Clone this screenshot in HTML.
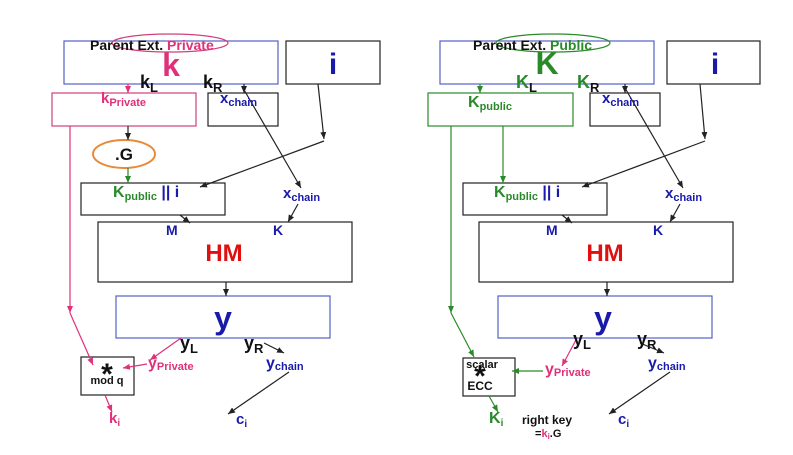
<!DOCTYPE html>
<html><head><meta charset="utf-8"><style>
html,body{margin:0;padding:0;background:#fff}
svg{display:block}
text{font-family:"Liberation Sans",sans-serif;font-weight:bold}
</style></head><body>
<svg width="793" height="455" viewBox="0 0 793 455" xmlns="http://www.w3.org/2000/svg">
<defs>
<marker id="ab" markerWidth="8" markerHeight="8" refX="7" refY="4" orient="auto" markerUnits="userSpaceOnUse"><path d="M0,1 L7,4 L0,7 z" fill="#222"/></marker>
<marker id="ap" markerWidth="8" markerHeight="8" refX="7" refY="4" orient="auto" markerUnits="userSpaceOnUse"><path d="M0,1 L7,4 L0,7 z" fill="#e0307a"/></marker>
<marker id="ag" markerWidth="8" markerHeight="8" refX="7" refY="4" orient="auto" markerUnits="userSpaceOnUse"><path d="M0,1 L7,4 L0,7 z" fill="#2a8a2a"/></marker>
</defs>
<g fill="none" stroke-width="1.2">
<!-- LEFT -->
<rect x="64" y="41" width="214" height="43" stroke="#5560c8"/>
<rect x="286" y="41" width="94" height="43" stroke="#222"/>
<rect x="52" y="93" width="144" height="33" stroke="#d0407a"/>
<rect x="208" y="93" width="70" height="33" stroke="#222"/>
<ellipse cx="124" cy="154" rx="31" ry="14" stroke="#e88a3a" stroke-width="2"/>
<rect x="81" y="183" width="144" height="32" stroke="#222"/>
<rect x="98" y="222" width="254" height="60" stroke="#222"/>
<rect x="116" y="296" width="214" height="42" stroke="#5560c8"/>
<rect x="81" y="357" width="53" height="38" stroke="#222"/>
<ellipse cx="170" cy="43" rx="58" ry="9" stroke="#d0407a"/>
<line x1="128" y1="84" x2="128" y2="93" stroke="#e0307a" marker-end="url(#ap)"/>
<line x1="128" y1="126" x2="128" y2="140" stroke="#222" marker-end="url(#ab)"/>
<line x1="128" y1="168" x2="128" y2="183" stroke="#2a8a2a" marker-end="url(#ag)"/>
<line x1="244" y1="84" x2="244" y2="93" stroke="#222" marker-end="url(#ab)"/>
<polyline points="318,84 324,139" stroke="#222" marker-end="url(#ab)"/>
<line x1="324" y1="141" x2="200" y2="187" stroke="#222" marker-end="url(#ab)"/>
<line x1="243" y1="88" x2="301" y2="188" stroke="#222" marker-end="url(#ab)"/>
<line x1="298" y1="204" x2="288" y2="222" stroke="#222" marker-end="url(#ab)"/>
<line x1="180" y1="215" x2="190" y2="223" stroke="#222" marker-end="url(#ab)"/>
<line x1="226" y1="282" x2="226" y2="296" stroke="#222" marker-end="url(#ab)"/>
<line x1="70" y1="126" x2="70" y2="313" stroke="#e0307a" marker-end="url(#ap)"/>
<line x1="70" y1="313" x2="93" y2="365" stroke="#e0307a" marker-end="url(#ap)"/>
<line x1="181" y1="338" x2="150" y2="360" stroke="#e0307a" marker-end="url(#ap)"/>
<line x1="147" y1="364" x2="123" y2="368" stroke="#e0307a" marker-end="url(#ap)"/>
<line x1="264" y1="343" x2="284" y2="353" stroke="#222" marker-end="url(#ab)"/>
<line x1="289" y1="372" x2="228" y2="414" stroke="#222" marker-end="url(#ab)"/>
<line x1="105" y1="395" x2="112" y2="412" stroke="#e0307a" marker-end="url(#ap)"/>
<!-- RIGHT -->
<rect x="440" y="41" width="214" height="43" stroke="#5560c8"/>
<rect x="667" y="41" width="93" height="43" stroke="#222"/>
<rect x="428" y="93" width="145" height="33" stroke="#2a8a2a"/>
<rect x="590" y="93" width="70" height="33" stroke="#222"/>
<rect x="463" y="183" width="144" height="32" stroke="#222"/>
<rect x="479" y="222" width="254" height="60" stroke="#222"/>
<rect x="498" y="296" width="214" height="42" stroke="#5560c8"/>
<rect x="463" y="358" width="52" height="38" stroke="#222"/>
<ellipse cx="553" cy="43" rx="57" ry="9" stroke="#2a8a2a"/>
<line x1="480" y1="84" x2="480" y2="93" stroke="#2a8a2a" marker-end="url(#ag)"/>
<line x1="625" y1="84" x2="625" y2="93" stroke="#222" marker-end="url(#ab)"/>
<line x1="503" y1="126" x2="503" y2="183" stroke="#2a8a2a" marker-end="url(#ag)"/>
<line x1="700" y1="84" x2="705" y2="139" stroke="#222" marker-end="url(#ab)"/>
<line x1="705" y1="141" x2="582" y2="187" stroke="#222" marker-end="url(#ab)"/>
<line x1="625" y1="88" x2="683" y2="188" stroke="#222" marker-end="url(#ab)"/>
<line x1="680" y1="204" x2="670" y2="222" stroke="#222" marker-end="url(#ab)"/>
<line x1="562" y1="215" x2="572" y2="223" stroke="#222" marker-end="url(#ab)"/>
<line x1="607" y1="282" x2="607" y2="296" stroke="#222" marker-end="url(#ab)"/>
<line x1="451" y1="126" x2="451" y2="313" stroke="#2a8a2a" marker-end="url(#ag)"/>
<line x1="451" y1="313" x2="474" y2="357" stroke="#2a8a2a" marker-end="url(#ag)"/>
<line x1="577" y1="338" x2="562" y2="366" stroke="#e0307a" marker-end="url(#ap)"/>
<line x1="543" y1="371" x2="512" y2="371" stroke="#2a8a2a" marker-end="url(#ag)"/>
<line x1="640" y1="343" x2="664" y2="353" stroke="#222" marker-end="url(#ab)"/>
<line x1="670" y1="372" x2="609" y2="414" stroke="#222" marker-end="url(#ab)"/>
<line x1="489" y1="396" x2="498" y2="412" stroke="#2a8a2a" marker-end="url(#ag)"/>
</g>
<!-- LEFT TEXT -->
<text x="90" y="50" font-size="14" fill="#111">Parent Ext. <tspan fill="#e0307a">Private</tspan></text>
<text x="171" y="76" font-size="32" fill="#e0307a" text-anchor="middle">k</text>
<text x="140" y="88" font-size="18" fill="#111">k<tspan font-size="13" dy="4">L</tspan></text>
<text x="203" y="88" font-size="18" fill="#111">k<tspan font-size="13" dy="4">R</tspan></text>
<text x="333" y="74" font-size="30" fill="#1a1aaa" text-anchor="middle">i</text>
<text x="101" y="103" font-size="15" fill="#e0307a">k<tspan font-size="11" dy="3">Private</tspan></text>
<text x="220" y="103" font-size="15" fill="#1a1aaa">x<tspan font-size="11" dy="3">chain</tspan></text>
<text x="124" y="160" font-size="17" fill="#111" text-anchor="middle">.G</text>
<text x="113" y="197" font-size="16" fill="#2a8a2a">K<tspan font-size="11" dy="3">public</tspan><tspan dy="-3" fill="#1a1aaa"> || i</tspan></text>
<text x="283" y="198" font-size="15" fill="#1a1aaa">x<tspan font-size="11" dy="3">chain</tspan></text>
<text x="166" y="235" font-size="14" fill="#1a1aaa">M</text>
<text x="273" y="235" font-size="14" fill="#1a1aaa">K</text>
<text x="224" y="261" font-size="24" fill="#e01010" text-anchor="middle">HM</text>
<text x="223" y="329" font-size="32" fill="#1a1aaa" text-anchor="middle">y</text>
<text x="180" y="349" font-size="18" fill="#111">y<tspan font-size="13" dy="4">L</tspan></text>
<text x="244" y="349" font-size="18" fill="#111">y<tspan font-size="13" dy="4">R</tspan></text>
<text x="148" y="368" font-size="16" fill="#e0307a">y<tspan font-size="11" dy="2">Private</tspan></text>
<text x="266" y="368" font-size="16" fill="#1a1aaa">y<tspan font-size="11" dy="2">chain</tspan></text>
<text x="107" y="384" font-size="30" fill="#111" text-anchor="middle">*</text>
<text x="107" y="384" font-size="11" fill="#111" text-anchor="middle">mod q</text>
<text x="109" y="423" font-size="15" fill="#e0307a">k<tspan font-size="10" dy="3">i</tspan></text>
<text x="236" y="424" font-size="15" fill="#1a1aaa">c<tspan font-size="10" dy="3">i</tspan></text>
<!-- RIGHT TEXT -->
<text x="473" y="50" font-size="14" fill="#111">Parent Ext. <tspan fill="#2a8a2a">Public</tspan></text>
<text x="547" y="74" font-size="32" fill="#2a8a2a" text-anchor="middle">K</text>
<text x="516" y="88" font-size="18" fill="#2a8a2a">K<tspan font-size="13" dy="4" fill="#111">L</tspan></text>
<text x="577" y="88" font-size="18" fill="#2a8a2a">K<tspan font-size="13" dy="4" fill="#111">R</tspan></text>
<text x="715" y="74" font-size="30" fill="#1a1aaa" text-anchor="middle">i</text>
<text x="468" y="107" font-size="16" fill="#2a8a2a">K<tspan font-size="11" dy="3">public</tspan></text>
<text x="602" y="103" font-size="15" fill="#1a1aaa">x<tspan font-size="11" dy="3">chain</tspan></text>
<text x="494" y="197" font-size="16" fill="#2a8a2a">K<tspan font-size="11" dy="3">public</tspan><tspan dy="-3" fill="#1a1aaa"> || i</tspan></text>
<text x="665" y="198" font-size="15" fill="#1a1aaa">x<tspan font-size="11" dy="3">chain</tspan></text>
<text x="546" y="235" font-size="14" fill="#1a1aaa">M</text>
<text x="653" y="235" font-size="14" fill="#1a1aaa">K</text>
<text x="605" y="261" font-size="24" fill="#e01010" text-anchor="middle">HM</text>
<text x="603" y="329" font-size="32" fill="#1a1aaa" text-anchor="middle">y</text>
<text x="573" y="345" font-size="18" fill="#111">y<tspan font-size="13" dy="4">L</tspan></text>
<text x="637" y="345" font-size="18" fill="#111">y<tspan font-size="13" dy="4">R</tspan></text>
<text x="545" y="374" font-size="16" fill="#e0307a">y<tspan font-size="11" dy="2">Private</tspan></text>
<text x="648" y="368" font-size="16" fill="#1a1aaa">y<tspan font-size="11" dy="2">chain</tspan></text>
<text x="480" y="386" font-size="30" fill="#111" text-anchor="middle">*</text>
<text x="482" y="368" font-size="11" fill="#111" text-anchor="middle">scalar</text>
<text x="480" y="390" font-size="12" fill="#111" text-anchor="middle">ECC</text>
<text x="489" y="423" font-size="16" fill="#2a8a2a">K<tspan font-size="10" dy="3">i</tspan></text>
<text x="522" y="424" font-size="12" fill="#111">right key</text>
<text x="535" y="437" font-size="11" fill="#111">=<tspan fill="#e0307a">k<tspan font-size="8" dy="2">i</tspan></tspan><tspan dy="-2">.G</tspan></text>
<text x="618" y="424" font-size="15" fill="#1a1aaa">c<tspan font-size="10" dy="3">i</tspan></text>
</svg>
</body></html>
